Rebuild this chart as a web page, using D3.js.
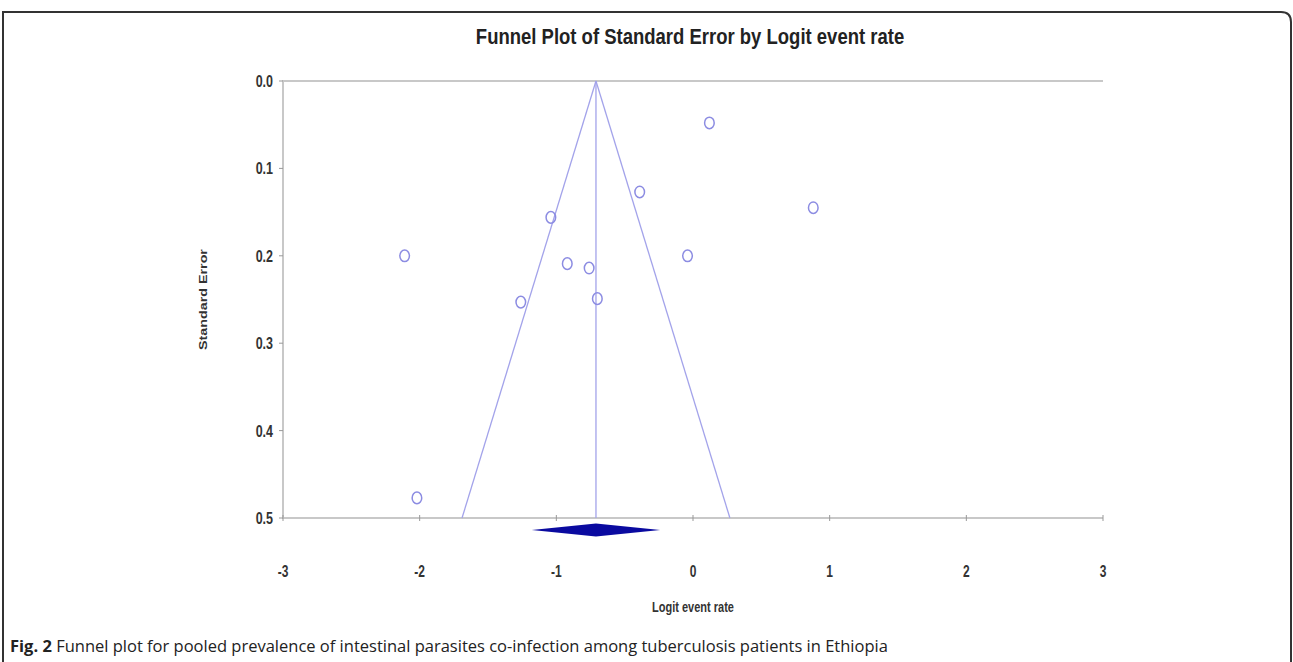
<!DOCTYPE html>
<html>
<head>
<meta charset="utf-8">
<script src="https://cdn.jsdelivr.net/npm/d3@7"></script>
<style>
  body { margin: 0; background: #fff; }
  svg { display: block; }
</style>
</head>
<body>
<div id="chart"></div>
<script>
// study points
var logitRate = [0.12, -0.39, 0.88, -1.04, -2.11, -0.04, -0.92, -0.76, -1.26, -0.70, -2.02];
var stdError  = [0.048, 0.127, 0.145, 0.156, 0.200, 0.200, 0.209, 0.214, 0.253, 0.249, 0.477];

// pooled estimate and its interval
var pooled = -0.71;
var pooledCI = [-1.18, -0.24];

var xTicks = [-3, -2, -1, 0, 1, 2, 3];
var yTicks = [0.0, 0.1, 0.2, 0.3, 0.4, 0.5];

var svgWidth = 1293;
var svgHeight = 662;

var margin = { top: 81, right: 190, bottom: 144, left: 283 };
var width = svgWidth - margin.left - margin.right;
var height = svgHeight - margin.top - margin.bottom;

var svg = d3.select("#chart")
  .append("svg")
  .attr("width", svgWidth)
  .attr("height", svgHeight);

// figure frame (top-right corner rounded)
svg.append("path")
  .attr("d", "M3,662 V12 H1281 Q1291,12 1291,22 V662")
  .attr("fill", "none")
  .attr("stroke", "#333")
  .attr("stroke-width", 2);

// title, the original image is stretched vertically
svg.append("text")
  .attr("transform", `translate(${margin.left + width / 2 - 3}, 44) scale(1,1.15)`)
  .attr("text-anchor", "middle")
  .attr("font-family", "Liberation Sans, Arial, sans-serif")
  .attr("font-weight", "bold")
  .attr("font-size", "18.5px")
  .attr("fill", "#222")
  .text("Funnel Plot of Standard Error by Logit event rate");

var chartGroup = svg.append("g")
  .attr("transform", `translate(${margin.left}, ${margin.top})`);

var xScale = d3.scaleLinear().domain([-3, 3]).range([0, width]);
var yScale = d3.scaleLinear().domain([0, 0.5]).range([0, height]);

// plot frame: left, top, bottom
chartGroup.append("path")
  .attr("d", `M${width},0 H0 V${height} H${width}`)
  .attr("fill", "none")
  .attr("stroke", "#c8c8c8")
  .attr("stroke-width", 2);

// x ticks crossing the axis
chartGroup.selectAll(".xtick")
  .data(xTicks)
  .enter()
  .append("line")
  .attr("class", "xtick")
  .attr("x1", d => xScale(d))
  .attr("x2", d => xScale(d))
  .attr("y1", height - 3)
  .attr("y2", height + 3)
  .attr("stroke", "#999")
  .attr("stroke-width", 1);

chartGroup.selectAll(".xlabel")
  .data(xTicks)
  .enter()
  .append("text")
  .attr("class", "xlabel")
  .attr("transform", d => `translate(${xScale(d)}, ${height + 59}) scale(1,1.3)`)
  .attr("text-anchor", "middle")
  .attr("font-family", "Liberation Sans, Arial, sans-serif")
  .attr("font-weight", "bold")
  .attr("font-size", "12px")
  .attr("fill", "#333")
  .text(d => d);

// y ticks
chartGroup.selectAll(".ytick")
  .data(yTicks)
  .enter()
  .append("line")
  .attr("class", "ytick")
  .attr("x1", -4)
  .attr("x2", 0)
  .attr("y1", d => yScale(d))
  .attr("y2", d => yScale(d))
  .attr("stroke", "#999")
  .attr("stroke-width", 1);

chartGroup.selectAll(".ylabel")
  .data(yTicks)
  .enter()
  .append("text")
  .attr("class", "ylabel")
  .attr("transform", d => `translate(-10, ${yScale(d) + 6}) scale(1,1.3)`)
  .attr("text-anchor", "end")
  .attr("font-family", "Liberation Sans, Arial, sans-serif")
  .attr("font-weight", "bold")
  .attr("font-size", "12.5px")
  .attr("fill", "#333")
  .text(d => d3.format(".1f")(d));

// funnel
var lineColor = "#a3a3ea";
[-1, 1].forEach(function(side) {
  chartGroup.append("line")
    .attr("x1", xScale(pooled))
    .attr("y1", yScale(0))
    .attr("x2", xScale(pooled + side * 1.96 * 0.5))
    .attr("y2", yScale(0.5))
    .attr("stroke", lineColor)
    .attr("stroke-width", 1.3);
});

chartGroup.append("line")
  .attr("x1", xScale(pooled))
  .attr("x2", xScale(pooled))
  .attr("y1", yScale(0))
  .attr("y2", yScale(0.5))
  .attr("stroke", lineColor)
  .attr("stroke-width", 1.3);

// pooled diamond under the axis
var dy = height + 12;
chartGroup.append("path")
  .attr("d", `M${xScale(pooledCI[0])},${dy} L${xScale(pooled)},${dy - 6.5} L${xScale(pooledCI[1])},${dy} L${xScale(pooled)},${dy + 6.5} Z`)
  .attr("fill", "#0a0aa0");

// study markers
chartGroup.selectAll("ellipse")
  .data(logitRate)
  .enter()
  .append("ellipse")
  .attr("cx", d => xScale(d))
  .attr("cy", (d, i) => yScale(stdError[i]))
  .attr("rx", 4.8)
  .attr("ry", 5.8)
  .attr("fill", "none")
  .attr("stroke", "#8c8ce2")
  .attr("stroke-width", 1.5);

// axis labels
chartGroup.append("text")
  .attr("transform", `translate(${width / 2}, ${height + 94}) scale(1,1.3)`)
  .attr("text-anchor", "middle")
  .attr("font-family", "Liberation Sans, Arial, sans-serif")
  .attr("font-weight", "bold")
  .attr("font-size", "11px")
  .attr("fill", "#333")
  .text("Logit event rate");

chartGroup.append("text")
  .attr("transform", `translate(-76, ${height / 2}) rotate(-90) scale(1.3,1)`)
  .attr("text-anchor", "middle")
  .attr("font-family", "Liberation Sans, Arial, sans-serif")
  .attr("font-weight", "bold")
  .attr("font-size", "11px")
  .attr("fill", "#333")
  .text("Standard Error");

// caption
var cap = svg.append("text")
  .attr("x", 10)
  .attr("y", 652)
  .attr("font-family", "Open Sans, sans-serif")
  .attr("font-size", "16.5px")
  .attr("fill", "#222");
cap.append("tspan").attr("font-weight", "bold").text("Fig. 2");
cap.append("tspan").text(" Funnel plot for pooled prevalence of intestinal parasites co-infection among tuberculosis patients in Ethiopia");
</script>
</body>
</html>
